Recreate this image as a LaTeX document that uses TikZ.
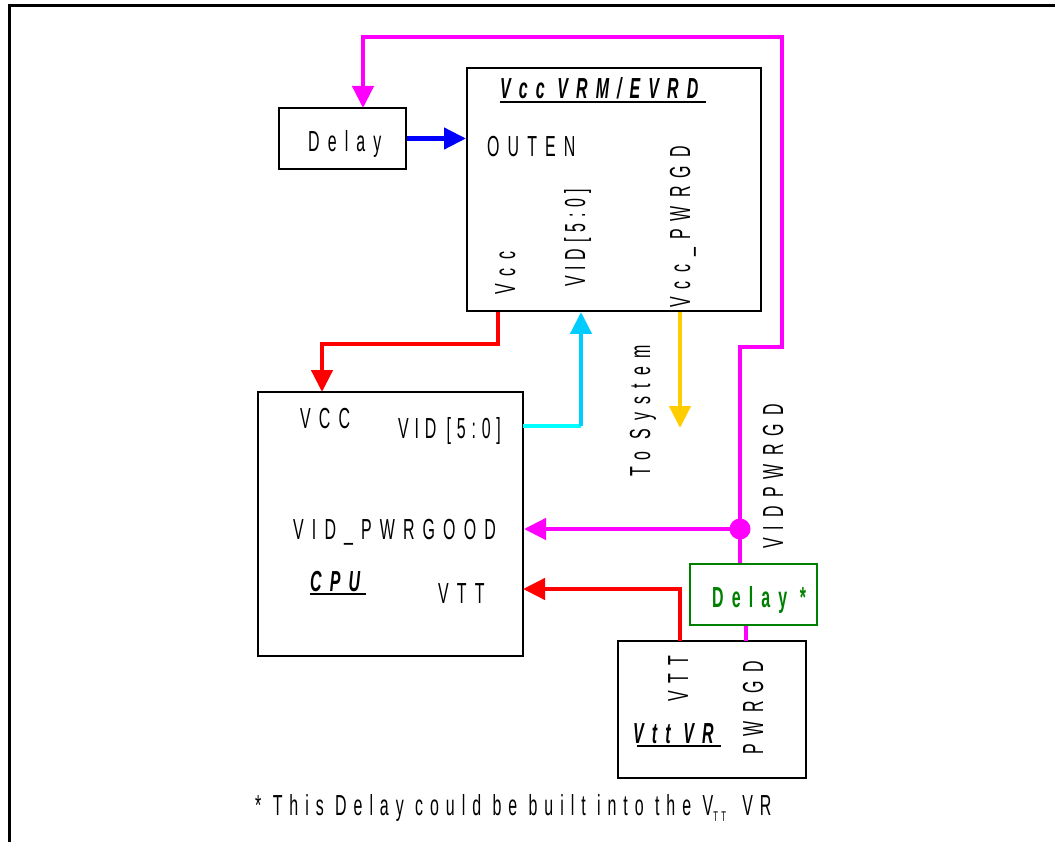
\documentclass[tikz,border=0pt]{standalone}
\usepackage{fontspec}
\setmainfont{Liberation Sans}[FakeStretch=0.55,LetterSpace=28]
\usetikzlibrary{arrows.meta}

\definecolor{pinkline}{RGB}{255,0,255}
\definecolor{redline}{RGB}{255,0,0}
\definecolor{blueline}{RGB}{0,0,255}
\definecolor{aqualine}{RGB}{0,255,255}
\definecolor{skyline}{RGB}{0,204,255}
\definecolor{goldline}{RGB}{255,204,0}
\definecolor{darkgreen}{RGB}{0,128,0}

\begin{document}
\begin{tikzpicture}[x=1pt,y=-1pt,
    every node/.style={inner sep=0pt,font=\fontsize{29}{31}\selectfont},
    blk/.style={draw,line width=2pt},
    sig/.style={line width=4.5pt},
    sighead/.style={-{Triangle[length=22pt,width=21pt]}},
    title/.style={font=\fontsize{29}{31}\selectfont\bfseries\itshape},
    tight/.style={font=\fontsize{29}{31}\selectfont\addfontfeatures{LetterSpace=20}}]

\useasboundingbox (0,0) rectangle (1055,842);

% Outer frame
\draw[line width=3pt] (1055,6) -- (9,6) -- (9,842);

%========================
% Blocks
%========================

\node[blk, minimum width=127pt, minimum height=61pt] (delay) at (342.5,138.5) {};
\node[blk, minimum width=294pt, minimum height=243pt] (vrm) at (614,189.5) {};
\node[blk, minimum width=265pt, minimum height=264pt] (cpu) at (390.5,524) {};
\node[blk, minimum width=188pt, minimum height=137pt] (vttvr) at (712,709.5) {};
\node[blk, draw=darkgreen, minimum width=127pt, minimum height=61pt] (dstar) at (753.5,594.5) {};

% Delay
\node[anchor=base west] (delaytxt) at (308,152) {Delay};

% Vcc VRM/EVRD
\node[title, anchor=base west] (vrmtitle) at (500,99) {Vcc VRM/EVRD};
\draw[line width=1.5pt] ([yshift=-3pt]vrmtitle.base west) -- ([yshift=-3pt,xshift=7pt]vrmtitle.base east);
\node[anchor=base west] (outen) at (487,157) {OUTEN};
\node[rotate=90, anchor=base west] (vrmvcc) at (515,295) {Vcc};
\node[tight, rotate=90, anchor=base west] (vrmvid) at (585,287) {VID[5:0]};
\node[rotate=90, anchor=base west] (vrmpg) at (690,308) {Vcc\_PWRGD};

% CPU
\node[anchor=base west] (cpuvcc) at (300,428) {VCC};
\node[tight, anchor=base west] (cpuvid) at (398,438) {VID [5:0]};
\node[anchor=base west] (cpupg) at (293,539) {VID\_PWRGOOD};
\node[title, anchor=base west] (cputitle) at (310,591) {CPU};
\draw[line width=1.5pt] ([yshift=-3pt]cputitle.base west) -- ([yshift=-3pt,xshift=6pt]cputitle.base east);
\node[anchor=base west] (cpuvtt) at (438,603) {VTT};

% Vtt VR
\node[rotate=90, anchor=base west] (vrvtt) at (688,702) {VTT};
\node[rotate=90, anchor=base west] (vrpg) at (763,755) {PWRGD};
\node[title, anchor=base west] (vrtitle) at (633,743) {Vtt VR};
\draw[line width=1.5pt] ([yshift=-3pt,xshift=4pt]vrtitle.base west) -- ([yshift=-3pt,xshift=7pt]vrtitle.base east);

% Delay *
\node[anchor=base west, text=darkgreen, font=\fontsize{29}{31}\selectfont\bfseries] (dstartxt) at (712,607) {Delay *};

% Free labels
\node[rotate=90, anchor=base west] (tosys) at (650,477) {To System};
\node[rotate=90, anchor=base west] (vidpg) at (783,549) {VIDPWRGD};
\node[anchor=base west, font=\fontsize{29}{31}\selectfont\addfontfeatures{LetterSpace=24}] (note) at (255,815)
  {* This Delay could be built into the V\raisebox{-6pt}{\fontsize{14}{14}\selectfont TT}\, VR};

%========================
% Pins and bends
%========================

\coordinate (delayin) at (363,108);
\coordinate (vccpin) at (498,312);
\coordinate (vccturn) at (498,344);
\coordinate (cpuvccin) at (322,392);
\coordinate (vidpin) at (581,312);
\coordinate (vidturn) at (581,426);
\coordinate (cpuvidout) at (523,426);
\coordinate (pgdout) at (680,312);
\coordinate (sysend) at (680,428);
\coordinate (pgturn) at (740,347);
\coordinate (pgtop) at (782,37);
\coordinate (vttpin) at (680,641);
\coordinate (cpuvttin) at (523,589);
\coordinate (vrpgpin) at (746,641);
\node[circle, fill=pinkline, minimum size=21pt] (dot) at (740,529) {};

%========================
% Connectors
%========================

\draw[sig, blueline, sighead] (delay.east) -- (delay.east -| vrm.west);
\draw[sig, pinkline, sighead] (dot.center) -- (pgturn) -| (pgtop) -| (delayin);
\draw[sig, pinkline, sighead] (dot.center) -- (dot.center -| cpu.east);
\draw[sig, pinkline] (dot.center) -- (dot.center |- dstar.north);
\draw[sig, pinkline] (vrpgpin |- dstar.south) -- (vrpgpin);
\draw[sig, redline, sighead] (vttpin) |- (cpuvttin);
\draw[sig, redline, sighead] (vccpin) -- (vccturn) -| (cpuvccin);
\draw[sig, aqualine] (cpuvidout) -- (vidturn);
\draw[sig, skyline, sighead] (vidturn) -- (vidpin);
\draw[sig, goldline, sighead] (pgdout) -- (sysend);

\end{tikzpicture}
\end{document}
